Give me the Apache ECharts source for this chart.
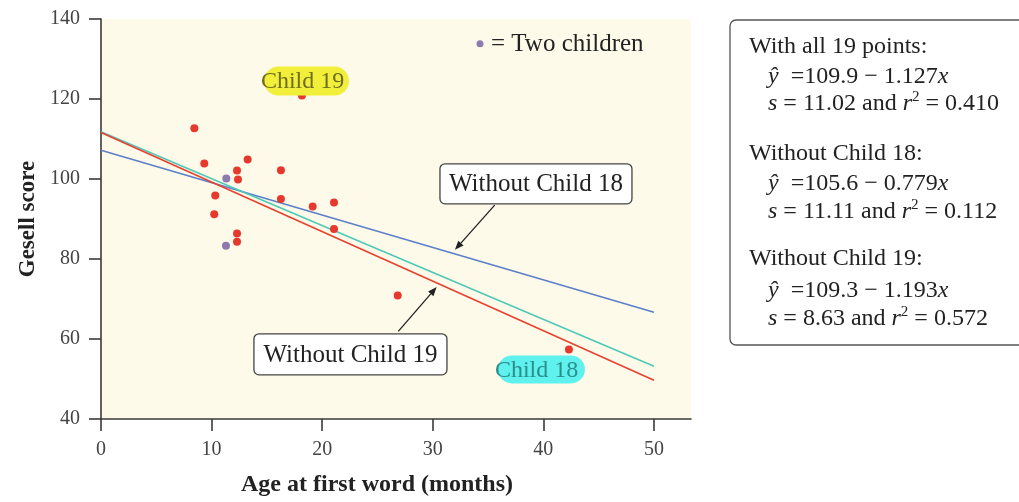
<!DOCTYPE html>
<html>
<head>
<meta charset="utf-8">
<script src="https://cdn.jsdelivr.net/npm/echarts@6/dist/echarts.min.js"></script>
<style>
html,body{margin:0;padding:0;background:#fff;}
#c{width:1019px;height:502px;}
</style>
</head>
<body>
<div id="c"></div>
<script>
// ---- data ----
const singleAge   = [8.44, 9.34, 13.26, 12.30, 12.39, 16.27, 10.33, 10.24, 16.27, 19.14, 21.07, 21.07, 12.30, 12.30, 26.83, 18.17, 42.31];
const singleScore = [112.7, 103.9, 104.9, 102.1, 99.9, 102.2, 95.9, 91.2, 95.0, 93.1, 94.1, 87.5, 86.4, 84.3, 70.9, 120.9, 57.4];
const twoAge   = [11.33, 11.30];
const twoScore = [100.1, 83.3];
const lineX = [0, 50];
const lineWithout18 = [107.2, 66.7];
const lineAll = [111.8, 53.2];
const lineWithout19 = [111.6, 49.7];
const xTicks = [0, 10, 20, 30, 40, 50];
const yTicks = [40, 60, 80, 100, 120, 140];
const child19 = [18.17, 120.9];
const child18 = [42.31, 57.4];
const arrow18 = [[35.6, 93.46], [32.0, 82.3]];
const arrow19 = [[26.88, 61.9], [30.35, 72.98]];
const box18Anchor = [30.65, 103.8];
const box19Anchor = [13.83, 61.3];
const legendAnchor = [34.27, 133.8];

const SERIF = '"Liberation Serif", "DejaVu Serif", serif';
const pairs = (xs, ys) => xs.map((x, i) => [x, ys[i]]);

const chart = echarts.init(document.getElementById('c'), null, {renderer: 'canvas'});

const axisCommon = {
  axisLine: {show: true, onZero: false, lineStyle: {color: '#3a3a3a', width: 1.6}},
  axisTick: {show: true, length: 12, lineStyle: {color: '#3a3a3a', width: 1.6}},
  splitLine: {show: false}
};

chart.setOption({
  animation: false,
  backgroundColor: '#ffffff',
  grid: {left: 101, top: 19, right: 328, bottom: 80, show: true, backgroundColor: '#fefae9', borderWidth: 0},
  xAxis: Object.assign({}, axisCommon, {
    type: 'value', min: 0, max: 53.35,
    axisTick: Object.assign({}, axisCommon.axisTick, {customValues: xTicks}),
    axisLabel: {customValues: xTicks, margin: 21, fontFamily: SERIF, fontSize: 20, color: '#444'},
    name: 'Age at first word (months)', nameLocation: 'middle', nameGap: 54,
    nameTextStyle: {fontFamily: SERIF, fontWeight: 'bold', fontSize: 24, color: '#222', padding: [0, 38, 0, 0]}
  }),
  yAxis: Object.assign({}, axisCommon, {
    type: 'value', min: yTicks[0], max: yTicks[yTicks.length - 1], interval: 20,
    axisLabel: {margin: 21, fontFamily: SERIF, fontSize: 20, color: '#444'},
    name: 'Gesell score', nameLocation: 'middle', nameGap: 61,
    nameTextStyle: {fontFamily: SERIF, fontWeight: 'bold', fontSize: 23, color: '#222'}
  }),
  series: [
    {type: 'line', data: pairs(lineX, lineWithout18), showSymbol: false, lineStyle: {color: '#5b7fc9', width: 1.6}, z: 2, silent: true},
    {type: 'line', data: pairs(lineX, lineAll), showSymbol: false, lineStyle: {color: '#4fc8b6', width: 1.6}, z: 2, silent: true},
    {type: 'line', data: pairs(lineX, lineWithout19), showSymbol: false, lineStyle: {color: '#e8412f', width: 1.6}, z: 2, silent: true},
    {type: 'scatter', data: pairs(singleAge, singleScore), symbolSize: 8, itemStyle: {color: '#e5392e', opacity: 1}, z: 3},
    {type: 'scatter', data: pairs(twoAge, twoScore), symbolSize: 8, itemStyle: {color: '#8b7bae', opacity: 1}, z: 3}
  ]
});

const P = (d) => chart.convertToPixel({gridIndex: 0}, d);

function arrow(a, b) {
  const p1 = P(a), p2 = P(b);
  const ang = Math.atan2(p2[1] - p1[1], p2[0] - p1[0]);
  const L = 9, W = 3.5;
  const bx = p2[0] - L * Math.cos(ang), by = p2[1] - L * Math.sin(ang);
  const nx = -Math.sin(ang), ny = Math.cos(ang);
  return [
    {type: 'line', shape: {x1: p1[0], y1: p1[1], x2: bx, y2: by}, style: {stroke: '#222', lineWidth: 1.3}, z: 20},
    {type: 'polygon', shape: {points: [[p2[0], p2[1]], [bx + nx * W, by + ny * W], [bx - nx * W, by - ny * W]]}, style: {fill: '#222'}, z: 20}
  ];
}

function labelBox(anchor, w, h, text) {
  const p = P(anchor);
  return [
    {type: 'rect', shape: {x: p[0], y: p[1], width: w, height: h, r: 5}, style: {fill: '#fff', stroke: '#444', lineWidth: 1.3}, z: 20},
    {type: 'text', x: p[0] + w / 2, y: p[1] + h / 2 + 1, style: {text: text, font: '25px ' + SERIF, fill: '#222', align: 'center', verticalAlign: 'middle'}, z: 21}
  ];
}

function highlight(pt, dx, dy, w, h, color, textColor, text) {
  const p = P(pt);
  return [
    {type: 'rect', shape: {x: p[0] + dx, y: p[1] + dy, width: w, height: h, r: h / 2}, style: {fill: color}, z: 15},
    {type: 'text', x: p[0] + dx - 3, y: p[1] + dy + h / 2 + 1, style: {text: text, font: '24px ' + SERIF, fill: textColor, align: 'left', verticalAlign: 'middle'}, z: 16}
  ];
}

const lp = P(legendAnchor);
const rich = {
  i: {font: 'italic 24px ' + SERIF, fill: '#222'},
  sup: {font: '15px ' + SERIF, fill: '#222', verticalAlign: 'top'}
};
const boxLines = [
  ['With all 19 points:', 749, 47],
  ['{i|ŷ}  =109.9 − 1.127{i|x}', 768, 77],
  ['{i|s} = 11.02 and {i|r}{sup|2} = 0.410', 768, 104],
  ['Without Child 18:', 749, 154],
  ['{i|ŷ}  =105.6 − 0.779{i|x}', 768, 184],
  ['{i|s} = 11.11 and {i|r}{sup|2} = 0.112', 768, 212],
  ['Without Child 19:', 749, 259],
  ['{i|ŷ}  =109.3 − 1.193{i|x}', 768, 291],
  ['{i|s} = 8.63 and {i|r}{sup|2} = 0.572', 768, 319]
];

const graphics = [].concat(
  highlight(child19, -38, -29, 85, 29, '#f2ef3b', '#6f6d1e', 'Child 19'),
  highlight(child18, -71, 6, 87, 28, '#5ff1ee', '#2b8d8c', 'Child 18'),
  labelBox(box18Anchor, 192, 40, 'Without Child 18'),
  labelBox(box19Anchor, 193, 41, 'Without Child 19'),
  arrow(arrow18[0], arrow18[1]),
  arrow(arrow19[0], arrow19[1]),
  [
    {type: 'circle', shape: {cx: lp[0], cy: lp[1], r: 3.5}, style: {fill: '#8b7bae'}, z: 20},
    {type: 'text', x: lp[0] + 11, y: lp[1] + 1, style: {text: '= Two children', font: '25px ' + SERIF, fill: '#222', align: 'left', verticalAlign: 'middle'}, z: 20},
    {type: 'rect', shape: {x: 730, y: 20, width: 300, height: 325, r: 6}, style: {fill: '#fff', stroke: '#555', lineWidth: 1.3}, z: 20}
  ],
  boxLines.map(([t, x, y]) => ({
    type: 'text', x: x, y: y, z: 21,
    style: {text: t, font: '24px ' + SERIF, fill: '#222', align: 'left', verticalAlign: 'middle', lineHeight: 28, rich: rich}
  }))
);

chart.setOption({graphic: graphics});
</script>
</body>
</html>
